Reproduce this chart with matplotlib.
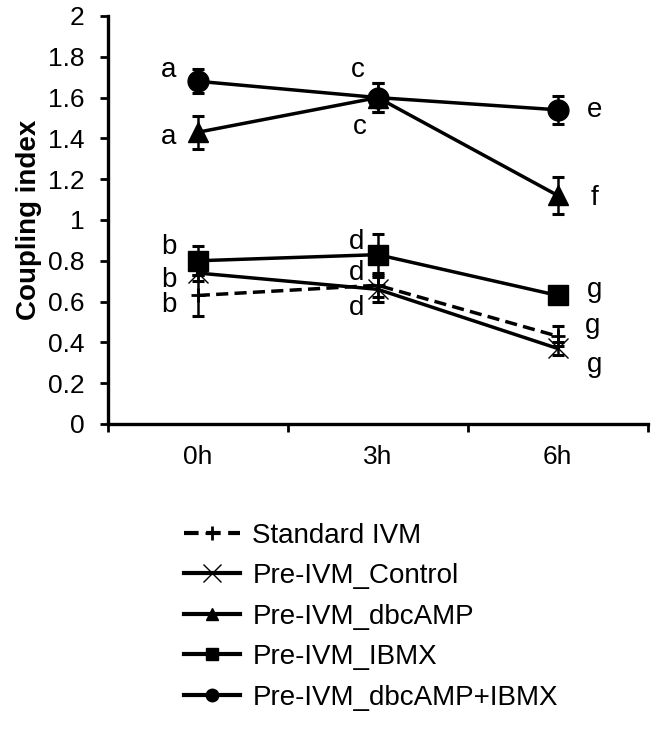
import matplotlib

matplotlib.use("Agg")
import matplotlib.pyplot as plt

plt.rcParams["font.family"] = ["Liberation Sans", "DejaVu Sans"]

# data
times = ["0h", "3h", "6h"]
series_names = [
    "Standard IVM",
    "Pre-IVM_Control",
    "Pre-IVM_dbcAMP",
    "Pre-IVM_IBMX",
    "Pre-IVM_dbcAMP+IBMX",
]
standard = [0.63, 0.68, 0.43]
standard_err = [0.10, 0.06, 0.05]
control = [0.74, 0.66, 0.37]
control_err = [0.04, 0.06, 0.03]
dbcamp = [1.43, 1.60, 1.12]
dbcamp_err = [0.08, 0.07, 0.09]
ibmx = [0.80, 0.83, 0.63]
ibmx_err = [0.07, 0.10, 0.02]
combo = [1.68, 1.60, 1.54]
combo_err = [0.06, 0.07, 0.07]

# significance letters per series and time point
standard_letters = ["b", "d", "g"]
control_letters = ["b", "d", "g"]
dbcamp_letters = ["a", "c", "f"]
ibmx_letters = ["b", "d", "g"]
combo_letters = ["a", "c", "e"]

fig = plt.figure(figsize=(6.61, 7.33), dpi=100)
ax = fig.add_axes([0.163, 0.4216, 0.817, 0.5566])

x = list(range(len(times)))
styles = [
    dict(marker="+", ms=10, mew=2.0, ls=(0, (3.5, 1.8)), ms_leg=10),
    dict(marker="x", ms=14, mew=1.0, ls="-", ms_leg=13),
    dict(marker="^", ms=15, mew=1.0, ls="-", ms_leg=9),
    dict(marker="s", ms=15, mew=1.0, ls="-", ms_leg=9),
    dict(marker="o", ms=15, mew=1.0, ls="-", ms_leg=9),
]
values = [standard, control, dbcamp, ibmx, combo]
errors = [standard_err, control_err, dbcamp_err, ibmx_err, combo_err]
letters = [standard_letters, control_letters, dbcamp_letters, ibmx_letters, combo_letters]

# letter offsets in pixels (0h, 3h, 6h)
offsets = [
    [(-29, -10), (-21, -23), (35, 10)],
    [(-29, -7), (-21, 16), (37, -17)],
    [(-29, -5), (-18, -29), (37, -3)],
    [(-29, 14), (-21, 13), (37, 5)],
    [(-29, 11), (-20, 28), (37, 0)],
]

handles = []
for name, vals, errs, st in zip(series_names, values, errors, styles):
    ax.errorbar(x, vals, yerr=errs, fmt="none", ecolor="black",
                elinewidth=1.8, capsize=4, capthick=2.2, zorder=3)
    ax.plot(x, vals, color="black", lw=2.5, ls=st["ls"], marker=st["marker"],
            ms=st["ms"], mew=st["mew"], mfc="black", mec="black", zorder=4)
    h, = ax.plot([], [], color="black", lw=3, ls=st["ls"], marker=st["marker"],
                 ms=st["ms_leg"], mew=st["mew"], mfc="black", mec="black", label=name)
    handles.append(h)

for vals, labs, offs in zip(values, letters, offsets):
    for xi, v, lab, off in zip(x, vals, labs, offs):
        ax.annotate(lab, (xi, v), xytext=off, textcoords="offset pixels",
                    ha="center", va="center", fontsize=20)

ax.set_xlim(-0.5, 2.5)
ax.set_ylim(0, 2)
ax.set_yticks([i / 5 for i in range(11)])
ax.set_yticklabels(["0", "0.2", "0.4", "0.6", "0.8", "1", "1.2", "1.4", "1.6", "1.8", "2"])
ax.set_xticks([-0.5, 0.5, 1.5, 2.5])
ax.set_xticklabels([])
ax.set_xticks(x, minor=True)
ax.set_xticklabels(times, minor=True)
ax.tick_params(axis="x", which="minor", length=0, pad=15, labelsize=19)
ax.tick_params(axis="both", which="major", direction="out", length=6, width=2, labelsize=19)
ax.tick_params(axis="y", pad=11)
for side in ("top", "right"):
    ax.spines[side].set_visible(False)
for side in ("left", "bottom"):
    ax.spines[side].set_linewidth(2.4)
ax.set_ylabel("Coupling index", fontsize=20, fontweight="bold", labelpad=4)

fig.legend(handles=handles, loc="upper left", bbox_to_anchor=(0.262, 0.302),
           frameon=False, fontsize=20, handlelength=2.0, handletextpad=0.45,
           labelspacing=0.52, borderaxespad=0)

fig.savefig("out.png", dpi=100, facecolor="white")
